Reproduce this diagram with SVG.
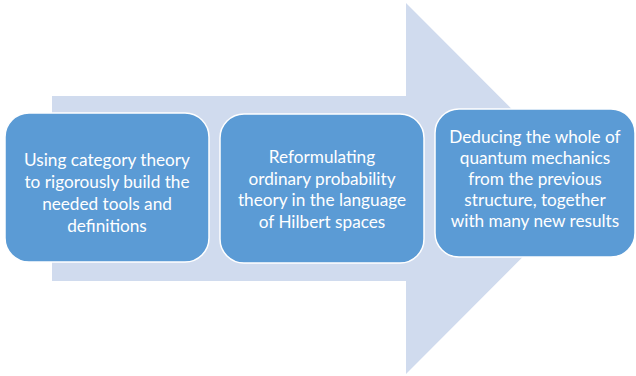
<svg xmlns="http://www.w3.org/2000/svg" width="636" height="376" viewBox="0 0 636 376">
<style>
.box{fill:#5b9bd5;stroke:#ffffff;stroke-width:1.5}
.t{font-family:Lato,"Open Sans","Liberation Sans",sans-serif;font-size:17.2px;fill:#ffffff;text-anchor:middle}
</style>
<rect width="636" height="376" fill="#ffffff"/>
<g id="arrow">
<polygon points="52,96 406,96 406,3 591,188.5 406,374 406,281 52,281" fill="#d0dbee"/>
</g>
<g id="node1">
<rect class="box" x="5" y="113" width="204" height="149" rx="24"/>
<text class="t" x="107" y="166">Using category theory</text>
<text class="t" x="107" y="188">to rigorously build the</text>
<text class="t" x="107" y="210">needed tools and</text>
<text class="t" x="107" y="232">definitions</text>
</g>
<g id="node2">
<rect class="box" x="220" y="114" width="204" height="149" rx="24"/>
<text class="t" x="322" y="163">Reformulating</text>
<text class="t" x="322" y="184.5">ordinary probability</text>
<text class="t" x="322" y="206">theory in the language</text>
<text class="t" x="322" y="227.5">of Hilbert spaces</text>
</g>
<g id="node3">
<rect class="box" x="435" y="109" width="200" height="148" rx="24"/>
<text class="t" x="535" y="143">Deducing the whole of</text>
<text class="t" x="535" y="164">quantum mechanics</text>
<text class="t" x="535" y="185">from the previous</text>
<text class="t" x="535" y="206">structure, together</text>
<text class="t" x="535" y="227">with many new results</text>
</g>
<g id="connectors"></g>
</svg>
